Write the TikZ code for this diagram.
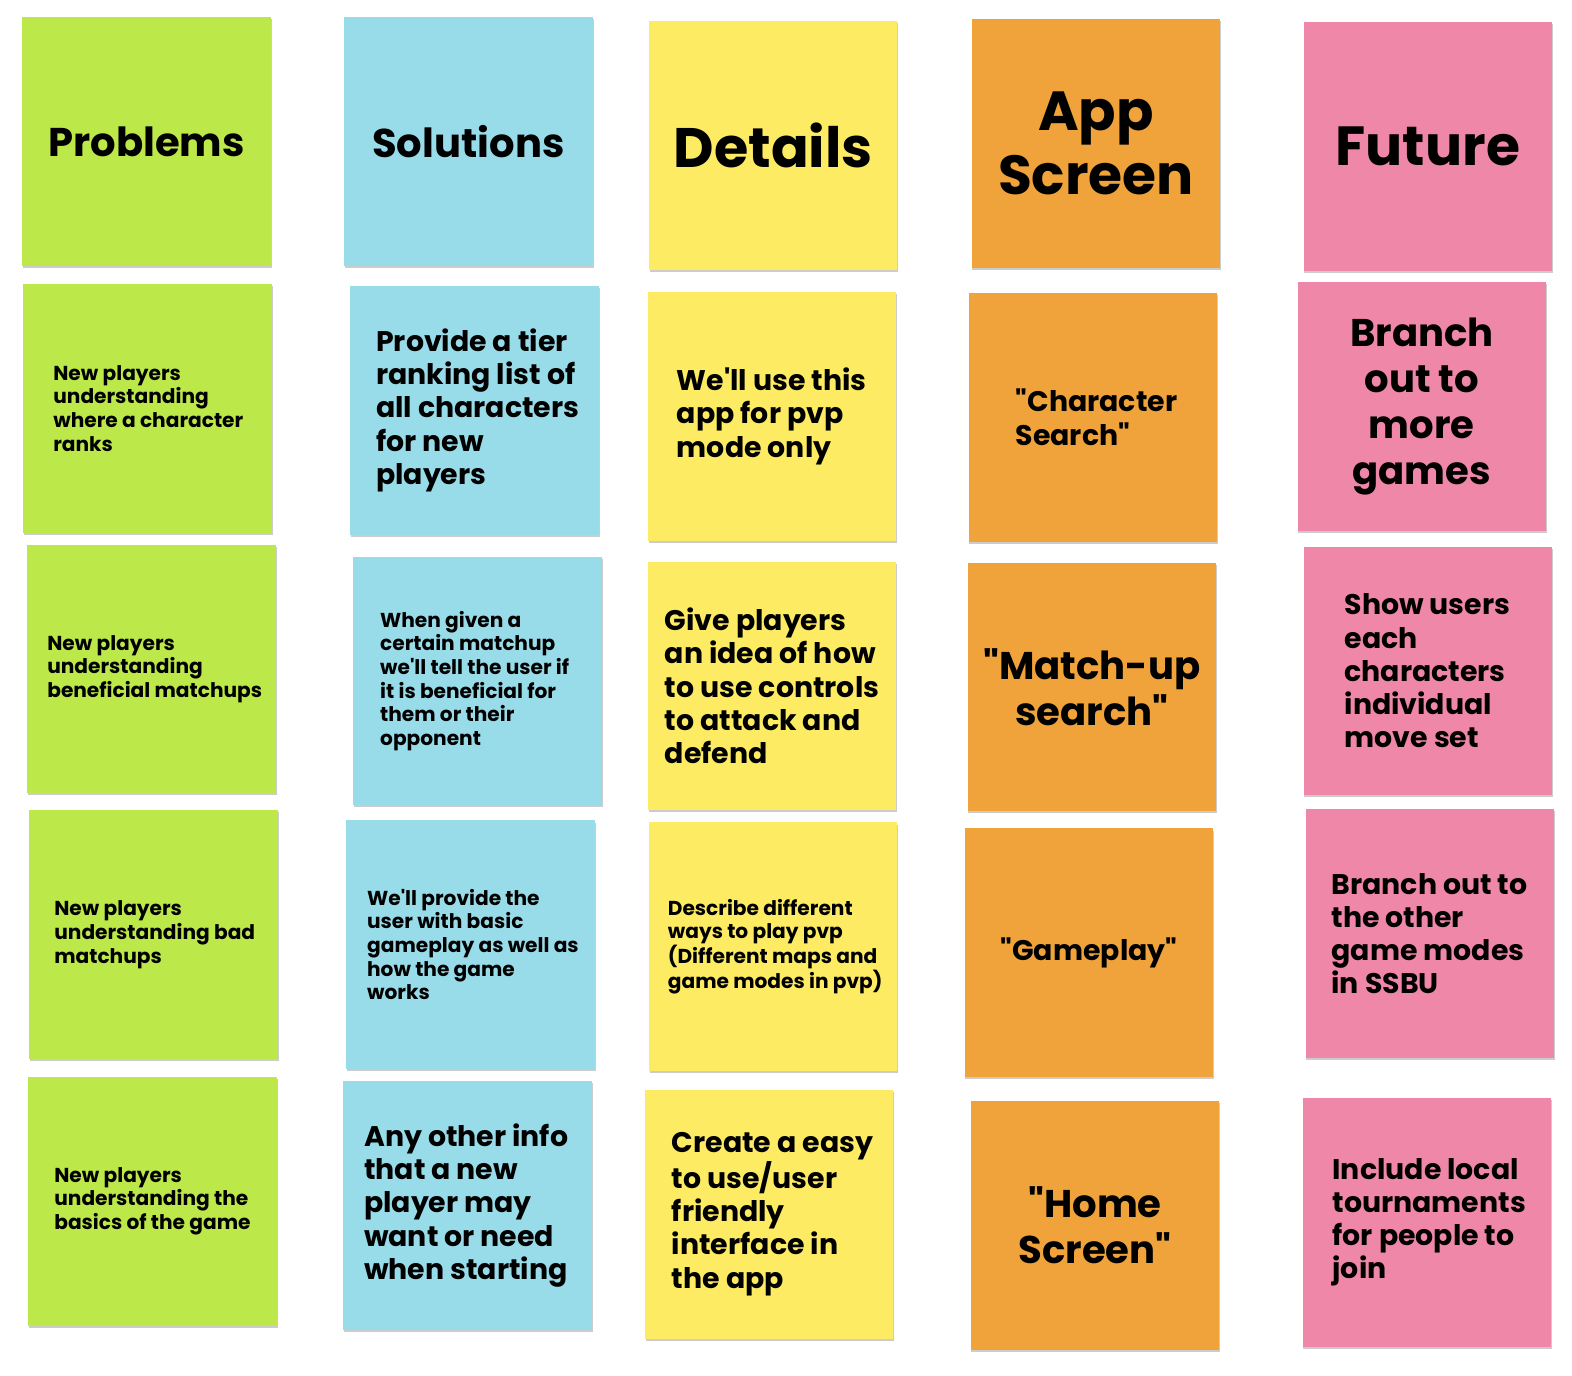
\documentclass[tikz,border=0pt]{standalone}
\usepackage{fontspec}
\setmainfont{Poppins}[Ligatures=TeXOff]
\usetikzlibrary{shadows}

\definecolor{cgreen}{HTML}{BCE84A}
\definecolor{cblue}{HTML}{99DCE9}
\definecolor{cyellow}{HTML}{FCEB63}
\definecolor{corange}{HTML}{F0A33B}
\definecolor{cpink}{HTML}{EF87A9}

\newcommand\fsz[2]{\fontsize{#1}{#2}\selectfont\bfseries}

\tikzset{
  note/.style={rectangle, draw=none, minimum width=248pt, minimum height=248pt,
    inner sep=0pt, anchor=north west,
    drop shadow={shadow xshift=0.8pt, shadow yshift=-2.2pt, opacity=0.2, fill=black}},
  lefttext/.style={anchor=west, align=left, inner sep=0pt},
  midtext/.style={anchor=center, align=center, inner sep=0pt},
  sm/.style={font=\fsz{20.1}{23.6}},
  md/.style={font=\fsz{28.3}{33.2}},
  lg/.style={font=\fsz{38.5}{46}},
}

\begin{document}
\begin{tikzpicture}[x=1pt, y=-1pt]
\useasboundingbox[fill=white] (0,0) rectangle (1568,1372);

% Problems column
\node[note, fill=cgreen] (p0) at (22,17) {};
\node[midtext, font=\fsz{40}{48}] (p0t) at (p0.center) {Problems};
\node[note, fill=cgreen] (p1) at (23,283) {};
\node[lefttext, sm] (p1t) at ([xshift=30pt]p1.west) {New players\\understanding\\where a character\\ranks};
\node[note, fill=cgreen] (p2) at (27,543) {};
\node[lefttext, sm] (p2t) at ([xshift=20pt]p2.west) {New players\\understanding\\beneficial matchups};
\node[note, fill=cgreen] (p3) at (29,808) {};
\node[lefttext, sm] (p3t) at ([xshift=25pt]p3.west) {New players\\understanding bad\\matchups};
\node[note, fill=cgreen] (p4) at (28,1074) {};
\node[lefttext, sm] (p4t) at ([xshift=26pt]p4.west) {New players\\understanding the\\basics of the game};

% Solutions column
\node[note, fill=cblue] (s0) at (343,17) {};
\node[midtext, font=\fsz{40}{48}] (s0t) at (s0.center) {Solutions};
\node[note, fill=cblue] (s1) at (349,285) {};
\node[lefttext, md] (s1t) at ([xshift=26pt]s1.west) {Provide a tier\\ranking list of\\all characters\\for new\\players};
\node[note, fill=cblue] (s2) at (352,555) {};
\node[lefttext, sm] (s2t) at ([xshift=27pt]s2.west) {When given a\\certain matchup\\we'll tell the user if\\it is beneficial for\\them or their\\opponent};
\node[note, fill=cblue] (s3) at (345,818) {};
\node[lefttext, sm] (s3t) at ([xshift=21pt]s3.west) {We'll provide the\\user with basic\\gameplay as well as\\how the game\\works};
\node[note, fill=cblue] (s4) at (342,1078) {};
\node[lefttext, md] (s4t) at ([xshift=21pt]s4.west) {Any other info\\that a new\\player may\\want or need\\when starting};

% Details column
\node[note, fill=cyellow] (d0) at (647,21) {};
\node[midtext, font=\fsz{55.5}{64}] (d0t) at (d0.center) {Details};
\node[note, fill=cyellow] (d1) at (646,291) {};
\node[lefttext, md] (d1t) at ([xshift=29pt]d1.west) {We'll use this\\app for pvp\\mode only};
\node[note, fill=cyellow] (d2) at (646,560) {};
\node[lefttext, md] (d2t) at ([xshift=17pt]d2.west) {Give players\\an idea of how\\to use controls\\to attack and\\defend};
\node[note, fill=cyellow] (d3) at (647,820) {};
\node[lefttext, sm] (d3t) at ([xshift=19pt]d3.west) {Describe different\\ways to play pvp\\(Different maps and\\game modes in pvp)};
\node[note, fill=cyellow] (d4) at (643,1087) {};
\node[lefttext, md] (d4t) at ([xshift=27pt]d4.west) {Create a easy\\to use/user\\friendly\\interface in\\the app};

% App screen column
\node[note, fill=corange] (a0) at (969,19) {};
\node[midtext, font=\fsz{55}{64}] (a0t) at (a0.center) {App\\Screen};
\node[note, fill=corange] (a1) at (966,292) {};
\node[lefttext, md] (a1t) at ([xshift=47pt]a1.west) {"Character\\Search"};
\node[note, fill=corange] (a2) at (965,561) {};
\node[midtext, lg] (a2t) at (a2.center) {"Match-up\\search"};
\node[note, fill=corange] (a3) at (962,826) {};
\node[midtext, md] (a3t) at (a3.center) {"Gameplay"};
\node[note, fill=corange] (a4) at (968,1098) {};
\node[midtext, lg] (a4t) at (a4.center) {"Home\\Screen"};

% Future column
\node[note, fill=cpink] (f0) at (1300,22) {};
\node[midtext, font=\fsz{55}{64}] (f0t) at (f0.center) {Future};
\node[note, fill=cpink] (f1) at (1294,281) {};
\node[midtext, lg] (f1t) at (f1.center) {Branch\\out to\\more\\games};
\node[note, fill=cpink] (f2) at (1300,545) {};
\node[lefttext, md] (f2t) at ([xshift=41pt]f2.west) {Show users\\each\\characters\\individual\\move set};
\node[note, fill=cpink] (f3) at (1302,807) {};
\node[lefttext, md] (f3t) at ([xshift=26pt]f3.west) {Branch out to\\the other\\game modes\\in SSBU};
\node[note, fill=cpink] (f4) at (1299,1095) {};
\node[lefttext, md] (f4t) at ([xshift=30pt]f4.west) {Include local\\tournaments\\for people to\\join};
\end{tikzpicture}
\end{document}
